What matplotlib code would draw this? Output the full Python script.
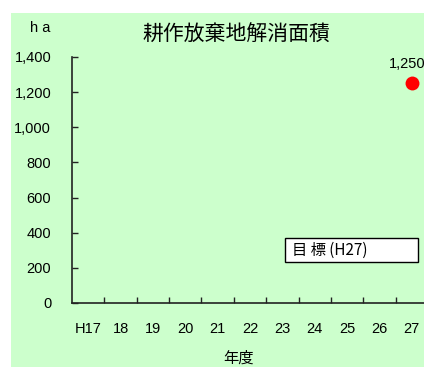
import numpy as np
import matplotlib.pyplot as plt
from matplotlib.patches import Rectangle

plt.rcParams['font.family'] = ['Liberation Sans', 'Noto Sans CJK JP', 'DejaVu Sans']

# 年度 (H17 - H27) and the target area for H27
years = ['H17', '18', '19', '20', '21', '22', '23', '24', '25', '26', '27']
target_year = '27'
target_value = 1250
yticks = [0, 200, 400, 600, 800, 1000, 1200, 1400]

W, H = 424, 367
fig = plt.figure(figsize=(W / 100, H / 100), dpi=100, facecolor='white')

# light green chart area
fig.patches.append(Rectangle((11 / W, 0), 1, 1 - 13 / H, transform=fig.transFigure,
                             facecolor='#CCFFCC', edgecolor='none', zorder=-10))

ax = fig.add_axes([72 / W, 64 / H, 356 / W, 246 / H])
ax.set_facecolor('none')
ax.set_xlim(-0.5, len(years) - 0.5)
ax.set_ylim(0, 1400)
for s in ['top', 'right']:
    ax.spines[s].set_visible(False)
for s in ['left', 'bottom']:
    ax.spines[s].set_linewidth(1.2)
    ax.spines[s].set_color('#222222')

x = np.arange(len(years))
ax.set_xticks(x)
ax.set_xticklabels(years, fontsize=10.5)
ax.set_xticks(x[:-1] + 0.5, minor=True)
ax.tick_params(axis='x', which='major', length=0, pad=14)
ax.tick_params(axis='x', which='minor', direction='in', length=4, width=1, color='#222222')

ax.set_yticks(yticks)
ax.set_yticklabels([f'{v:,}' for v in yticks], fontsize=10.5)
ax.tick_params(axis='y', direction='in', length=4, width=1, color='#222222', pad=15)

xi = years.index(target_year)
ax.plot([xi], [target_value], 'o', color='red', markersize=10, markeredgewidth=0, clip_on=False)
ax.annotate(f'{target_value:,}', (xi, target_value), xytext=(-3, 14), textcoords='offset points',
            ha='center', va='center', fontsize=10.5, annotation_clip=False)

fig.text(236 / W, 1 - 35 / H, '耕作放棄地解消面積', fontsize=15, ha='center', va='center',
         family=['Noto Sans CJK JP'])
fig.text(40 / W, 1 - 28 / H, 'h a', fontsize=10.5, ha='center', va='center')
fig.text(238 / W, 1 - 358 / H, '年度', fontsize=11, ha='center', va='center',
         family=['Noto Sans CJK JP'])

# target label box
fig.patches.append(Rectangle((285 / W, 1 - 262 / H), 133 / W, 24 / H, transform=fig.transFigure,
                             facecolor='white', edgecolor='black', linewidth=1))
fig.text(292 / W, 1 - 250 / H, '目 標 (H27)', fontsize=11, ha='left', va='center',
         family=['Noto Sans CJK JP'])

fig.savefig('out.png', dpi=100, facecolor='white')
